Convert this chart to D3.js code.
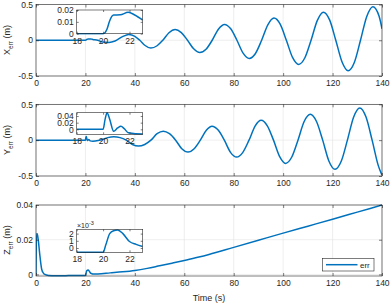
<!DOCTYPE html>
<meta charset="utf-8">
<style>
  body { margin: 0; background: #fff; }
  text { font-family: "Liberation Sans", Arial, sans-serif; fill: #262626; font-size: 8.5px; }
  .grid line { stroke: #e2e2e2; stroke-width: 0.6px; }
  .tick line { stroke: #262626; stroke-width: 0.6px; }
  .frame { fill: none; stroke: #262626; stroke-width: 0.6px; }
  .series { fill: none; stroke: #0072bd; stroke-width: 1.5px; }
</style>
<body>
<script src="https://d3js.org/d3.v7.min.js"></script>
<script>
  // ticks
  var timeTicks = [0, 20, 40, 60, 80, 100, 120, 140];
  var zoomTicks = [18, 20, 22];

  // X error (m) vs time (s)
  var xErrTime = [0, 18, 20, 20.3, 20.5, 20.8, 21.3, 21.9, 22.4, 23, 25, 27, 29.5, 32, 35, 37.5, 40, 42, 44, 46.5, 49, 51.3,
    53.8, 56.3, 58.8, 61.3, 63.8, 66.3, 68.8, 71.3, 73.8, 76.3, 78.8, 81.3, 83.8, 86.3, 88.8, 91.3, 93.8, 96.3, 98.8,
    101.3, 103.8, 106.3, 108.8, 111.3, 113.8, 116.3, 118.8, 121.3, 123.8, 126.3, 128.8, 131.3, 133.8, 136.3, 138.8, 140];
  var xErrValue = [0, 0, 0, 0.004, 0.011, 0.0157, 0.0159, 0.018, 0.0158, 0.0115, 0, -0.025, -0.03, -0.01, 0.05, 0.08, 0.055, 0, -0.07, -0.11, -0.077, 0,
    0.105, 0.15, 0.107, 0, -0.12, -0.172, -0.125, 0, 0.155, 0.222, 0.16, 0, -0.18, -0.254, -0.185, 0, 0.215, 0.31,
    0.225, 0, -0.24, -0.338, -0.245, 0, 0.275, 0.393, 0.285, 0, -0.3, -0.426, -0.31, 0, 0.33, 0.47, 0.34, 0.16];

  // Y error (m) vs time (s)
  var yErrTime = [0, 18, 20, 20.15, 20.3, 20.5, 20.8, 21.1, 21.35, 21.6, 21.9, 23, 24, 26.5, 29, 31.5, 34, 36.5, 39, 41.5, 44, 46.5,
    49, 51.5, 54, 56.5, 59, 61.5, 64, 66.5, 69, 71.2, 73.7, 76.2, 78.7, 81.2, 83.7, 86.2, 88.7, 91.1, 93.6, 96.1, 98.6,
    101, 103.5, 106, 108.5, 111, 113.5, 116, 118.5, 121, 123.5, 126, 128.5, 131, 133.5, 136, 138.5, 140];
  var yErrValue = [0, 0, 0, 0.03, 0.05, 0.03, -0.006, 0.004, 0.009, 0.002, -0.01, -0.014, -0.012, 0.005, 0.035, 0.047, 0.035, 0, -0.06, -0.083, -0.06, 0,
    0.09, 0.125, 0.09, 0, -0.12, -0.167, -0.12, 0, 0.14, 0.194, 0.14, 0, -0.17, -0.236, -0.17, 0, 0.2, 0.278, 0.2, 0, -0.23,
    -0.324, -0.235, 0, 0.26, 0.361, 0.26, 0, -0.29, -0.407, -0.295, 0, 0.32, 0.449, 0.325, 0, -0.355, -0.49];

  // Z error (m) vs time (s)
  var zErrTime = [0, 0.2, 0.5, 0.9, 1.6, 2.3, 3, 3.6, 5, 8, 12, 18, 20, 20.2, 20.5, 20.8, 21.1, 21.5, 22, 22.5, 23, 25, 30, 35,
    40, 45, 50, 55, 60, 65, 70, 80, 90, 100, 110, 120, 130, 140];
  var zErrValue = [0, 0.0235, 0.0235, 0.02, 0.0105, 0.003, 0.0008, 0, -0.0006, -0.0008, -0.0007, -0.0006, -0.0006, 0.0004, 0.002, 0.0024, 0.0025, 0.002, 0.0009, 0.0005, 0.0002, 0.0003, 0.0009, 0.0015,
    0.0023, 0.0035, 0.005, 0.0065, 0.008, 0.0097, 0.0115, 0.0156, 0.0197, 0.0238, 0.0278, 0.0318, 0.0359, 0.04];

  var svg = d3.select("body").append("svg")
    .attr("width", 390)
    .attr("height", 304);

  var clipId = 0;
  var numFmt = function (d) { return String(d); };

  function panel(o) {
    var x = d3.scaleLinear().domain(o.xDomain).range([o.left, o.right]);
    var y = d3.scaleLinear().domain(o.yDomain).range([o.bottom, o.top]);
    var g = svg.append("g");

    g.append("rect")
      .attr("x", o.left).attr("y", o.top)
      .attr("width", o.right - o.left).attr("height", o.bottom - o.top)
      .attr("fill", "#fff");

    if (o.grid) {
      var grid = g.append("g").attr("class", "grid");
      grid.selectAll(".gx").data(o.xTicks).join("line")
        .attr("x1", function (d) { return x(d); }).attr("x2", function (d) { return x(d); })
        .attr("y1", o.top).attr("y2", o.bottom);
      grid.selectAll(".gy").data(o.yTicks).join("line")
        .attr("x1", o.left).attr("x2", o.right)
        .attr("y1", function (d) { return y(d); }).attr("y2", function (d) { return y(d); });
    }

    var id = "clip" + (clipId++);
    g.append("clipPath").attr("id", id).append("rect")
      .attr("x", o.left).attr("y", o.top - 1)
      .attr("width", o.right - o.left).attr("height", o.bottom - o.top + 2);

    var line = d3.line()
      .x(function (d) { return x(d[0]); })
      .y(function (d) { return y(d[1]); })
      .curve(d3.curveMonotoneX);

    var pts = d3.zip(o.t, o.v).filter(function (d) { return d[0] >= o.xDomain[0] - 1 && d[0] <= o.xDomain[1] + 1; });
    g.append("path")
      .datum(pts)
      .attr("class", "series")
      .attr("clip-path", "url(#" + id + ")")
      .attr("d", line);

    var noDomain = function (s) { s.select(".domain").remove(); s.attr("font-size", null).attr("font-family", null); };

    g.append("g").attr("transform", "translate(0," + o.bottom + ")")
      .call(d3.axisBottom(x).tickValues(o.xTicks).tickSizeInner(-o.tick).tickSizeOuter(0).tickPadding(4).tickFormat(numFmt))
      .call(noDomain);
    g.append("g").attr("transform", "translate(0," + o.top + ")")
      .call(d3.axisTop(x).tickValues(o.xTicks).tickSizeInner(-o.tick).tickSizeOuter(0).tickFormat(""))
      .call(noDomain);
    g.append("g").attr("transform", "translate(" + o.left + ",0)")
      .call(d3.axisLeft(y).tickValues(o.yTicks).tickSizeInner(-o.tick).tickSizeOuter(0).tickPadding(3).tickFormat(o.yFmt || numFmt))
      .call(noDomain);
    g.append("g").attr("transform", "translate(" + o.right + ",0)")
      .call(d3.axisRight(y).tickValues(o.yTicks).tickSizeInner(-o.tick).tickSizeOuter(0).tickFormat(""))
      .call(noDomain);

    g.append("rect").attr("class", "frame")
      .attr("x", o.left).attr("y", o.top)
      .attr("width", o.right - o.left).attr("height", o.bottom - o.top);

    return g;
  }

  function yLabel(letter, midY) {
    var t = svg.append("text")
      .attr("transform", "translate(10," + midY + ") rotate(-90)")
      .attr("text-anchor", "middle")
      .style("font-size", "9px");
    t.append("tspan").text(letter);
    t.append("tspan").attr("dy", 2.5).style("font-size", "6.5px").text("err");
    t.append("tspan").attr("dy", -2.5).text(" (m)");
  }

  var L = 36, R = 382;

  // X panel
  panel({ left: L, right: R, top: 4.5, bottom: 76, xDomain: [0, 140], yDomain: [-0.5, 0.5],
    xTicks: timeTicks, yTicks: [-0.5, 0, 0.5], t: xErrTime, v: xErrValue, grid: true, tick: 3 });
  panel({ left: 76.7, right: 142.7, top: 10, bottom: 33.7, xDomain: [18, 23], yDomain: [0, 0.02],
    xTicks: zoomTicks, yTicks: [0, 0.01, 0.02], t: xErrTime, v: xErrValue, grid: false, tick: 2 });
  yLabel("X", 40);

  // Y panel
  panel({ left: L, right: R, top: 104.3, bottom: 176, xDomain: [0, 140], yDomain: [-0.5, 0.5],
    xTicks: timeTicks, yTicks: [-0.5, 0, 0.5], t: yErrTime, v: yErrValue, grid: true, tick: 3 });
  panel({ left: 76.7, right: 142.7, top: 112.7, bottom: 134.3, xDomain: [18, 23], yDomain: [-0.015, 0.05],
    xTicks: zoomTicks, yTicks: [0, 0.02, 0.04], t: yErrTime, v: yErrValue, grid: false, tick: 2 });
  yLabel("Y", 140);

  // Z panel
  panel({ left: L, right: R, top: 205, bottom: 276, xDomain: [0, 140], yDomain: [-0.0009, 0.04],
    xTicks: timeTicks, yTicks: [0, 0.02, 0.04], t: zErrTime, v: zErrValue, grid: true, tick: 3 });
  panel({ left: 76.7, right: 142.7, top: 229.3, bottom: 252.3, xDomain: [18, 23], yDomain: [-0.0006, 0.0026],
    xTicks: zoomTicks, yTicks: [0, 0.001, 0.002], t: zErrTime, v: zErrValue, grid: false, tick: 2,
    yFmt: function (d) { return String(Math.round(d * 1000)); } });
  yLabel("Z", 240);

  // exponent for the Z inset
  var expo = svg.append("text").attr("x", 77).attr("y", 227.5).style("font-size", "7px");
  expo.append("tspan").text("\u00d710");
  expo.append("tspan").attr("dy", -3).style("font-size", "5.5px").text("-3");

  // x-axis title
  svg.append("text")
    .attr("x", 209).attr("y", 300.5)
    .attr("text-anchor", "middle")
    .style("font-size", "9px")
    .text("Time (s)");

  // legend
  var leg = svg.append("g");
  leg.append("rect").attr("x", 322.5).attr("y", 258.5).attr("width", 51.5).attr("height", 12.5)
    .attr("fill", "#fff").attr("stroke", "#262626").attr("stroke-width", 0.6);
  leg.append("line").attr("x1", 326).attr("x2", 357.5).attr("y1", 264.7).attr("y2", 264.7)
    .attr("stroke", "#0072bd").attr("stroke-width", 1.5);
  leg.append("text").attr("x", 360).attr("y", 267.5).style("font-size", "8px").text("err");
</script>
</body>
